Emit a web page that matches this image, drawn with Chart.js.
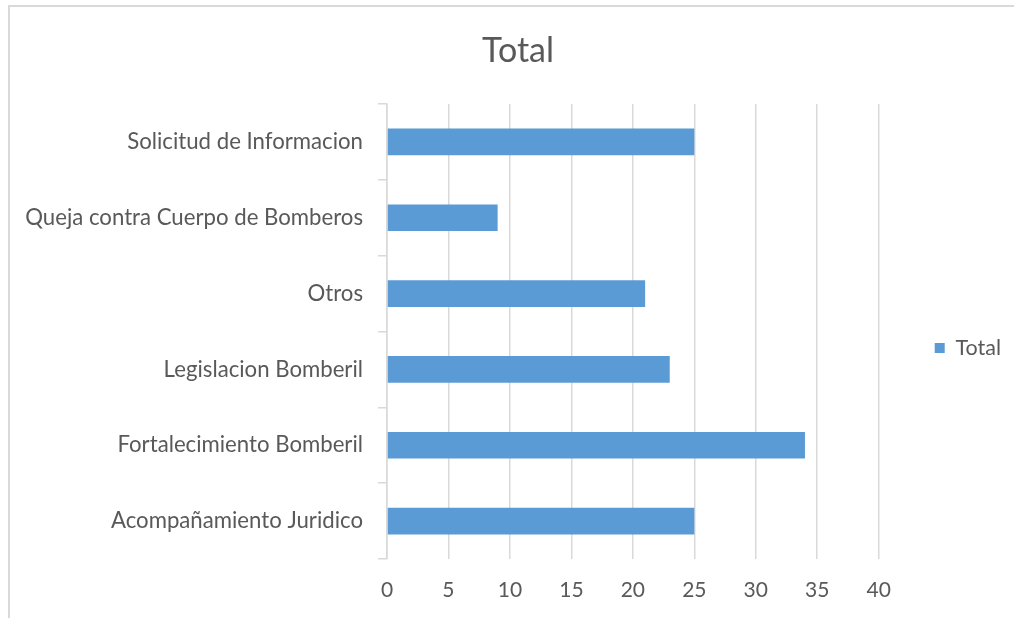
<!DOCTYPE html>
<html>
<head>
<meta charset="utf-8">
<script src="https://cdn.jsdelivr.net/npm/chart.js@4"></script>
<style>
    html, body { margin: 0; padding: 0; background: #fff; }
    #wrap { position: relative; width: 1014px; height: 618px; overflow: hidden; }
    #frame { position: absolute; left: 8px; top: 5px; width: 1100px; height: 700px; border: 2px solid #d9d9d9; }
    canvas { position: absolute; left: 0; top: 0; }
</style>
</head>
<body>
<div id="wrap">
    <div id="frame"></div>
    <canvas id="myChart" width="1014" height="618"></canvas>
</div>
<script>
// chart data
const categories = [
    'Solicitud de Informacion',
    'Queja contra Cuerpo de Bomberos',
    'Otros',
    'Legislacion Bomberil',
    'Fortalecimiento Bomberil',
    'Acompañamiento Juridico'
];
const totals = [25, 9, 21, 23, 34, 25];
const seriesName = 'Total';
const xMin = 0, xMax = 40, xStep = 5;

const textColor = '#595959';
const gridColor = '#d9d9d9';
Chart.defaults.font.family = 'Lato';

const padLeft = 25; // layout padding, keeps the title centred like the original
const ctx = document.getElementById('myChart').getContext('2d');
const chartInstance = new Chart(ctx, {
    type: 'bar',
    data: {
        labels: categories,
        datasets: [{
            label: seriesName,
            data: totals,
            backgroundColor: '#5b9bd5',
            borderWidth: 0,
            categoryPercentage: 1,
            barPercentage: 0.352
        }]
    },
    options: {
        indexAxis: 'y',
        responsive: false,
        animation: false,
        layout: { padding: { left: padLeft, right: 3, top: 0, bottom: 0 } },
        plugins: {
            title: {
                display: true,
                text: 'Total',
                color: textColor,
                font: { size: 34, weight: 'normal', lineHeight: 1.2 },
                padding: { top: 30.6, bottom: 32.6 }
            },
            legend: {
                position: 'right',
                // empty title only pushes the legend item down a bit
                title: { display: true, text: '', font: { size: 10, lineHeight: 1 }, padding: { top: 0, bottom: 68 } },
                labels: {
                    color: textColor,
                    font: { size: 21.5 },
                    boxWidth: 10,
                    boxHeight: 10,
                    padding: 56
                }
            },
            tooltip: { enabled: false }
        },
        scales: {
            x: {
                min: xMin,
                max: xMax,
                ticks: { stepSize: xStep, color: textColor, font: { size: 21 }, padding: 19 },
                grid: { color: gridColor, lineWidth: 1.5, drawTicks: false },
                border: { display: false },
                afterFit: (scale) => { scale.height = 59; }
            },
            y: {
                ticks: { color: textColor, font: { size: 22.2 }, padding: 15 },
                grid: { drawOnChartArea: false, drawTicks: true, tickLength: 9, color: gridColor, lineWidth: 1.5 },
                border: { display: true, color: gridColor, width: 1.5 },
                afterFit: (scale) => { scale.width = 387 - padLeft; }
            }
        }
    }
});
</script>
</body>
</html>
